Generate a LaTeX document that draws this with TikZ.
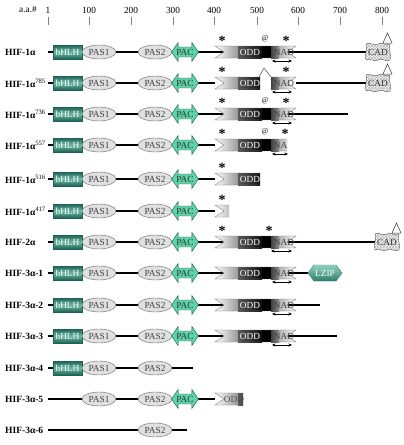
\documentclass[tikz,border=0pt]{standalone}
\usepackage{fontspec}
\setmainfont{Liberation Serif}
\usetikzlibrary{shapes.geometric,shapes.arrows,patterns,arrows.meta}

\definecolor{bhdark}{HTML}{1D6355}
\definecolor{bhlight}{HTML}{6DB8A5}
\definecolor{pacfill}{HTML}{5DD4A8}
\definecolor{pacline}{HTML}{1F5A4C}
\definecolor{lzlight}{HTML}{8FD3C0}
\definecolor{lzdark}{HTML}{2F7D6B}

\newcommand{\bbw}{2.2pt}

\newcommand{\oddbar}[6]{%
    \begin{scope}[shift={(0,#2)}]
        \clip (#3,-10) rectangle (#4,10);
        \shade[left color=white, right color=black!40] (215,-6) -- (238,-6) -- (238,6) -- (215,6) -- (224,0) -- cycle;
        \shade[left color=black!65, right color=black!95] (238,-6) rectangle (262,6);
        \fill[black] (262,-6) rectangle (271,6);
        \shade[left color=black!75, right color=black!45] (271,-6) rectangle (279,6);
        \shade[left color=black!30, right color=white] (279,-6) -- (296,-6) -- (287,0) -- (296,6) -- (279,6) -- cycle;
        \draw[black!55, line width=0.4pt] (215,-6) -- (296,-6) -- (287,0) -- (296,6) -- (215,6) -- (224,0) -- cycle;
        \node[inner sep=0.5pt, text=#6] (#1odd) at (#5,0) {ODD};
        \node[inner sep=0.5pt, text=black!75] (#1nad) at (284,0) {NAD};
    \end{scope}}

\newcommand{\caddom}[3]{%
    \begin{scope}[shift={(#2,#3)}]
        \draw[black!65, line width=0.4pt, preaction={fill=white}, pattern=crosshatch, pattern color=black!30]
            (-12,-8) .. controls (-8,-11) and (-4,-5) .. (0,-8)
            .. controls (4,-11) and (8,-5) .. (12,-8)
            .. controls (10,-3) and (14,3) .. (12,8)
            .. controls (8,11) and (4,5) .. (0,8)
            .. controls (-4,11) and (-8,5) .. (-12,8)
            .. controls (-14,3) and (-10,-3) .. (-12,-8) -- cycle;
        \draw[black!80, line width=0.5pt, fill=white] (5,-9) -- (9.5,-19) -- (14,-9) -- cycle;
        \node[inner sep=0.5pt, text=black!80] (#1) at (0,0) {CAD};
    \end{scope}}

\tikzset{
    backbone/.style={line width=\bbw},
    hiflab/.style={anchor=west, inner sep=0pt, font=\fontsize{9.5}{11}\selectfont\bfseries},
    bhlh/.style={rectangle, draw=bhdark, top color=bhdark, bottom color=bhdark, middle color=bhlight, minimum width=29pt, minimum height=14pt, inner sep=0pt, text=white},
    pasdom/.style={ellipse, draw=black!60, fill=black!12, minimum width=34pt, minimum height=14pt, inner sep=0pt, text=black!75},
    pacdom/.style={double arrow, draw=pacline, fill=pacfill, minimum height=27pt, minimum width=19pt, double arrow head extend=3pt, double arrow tip angle=110, inner sep=0pt, text=black!80},
    hifstar/.style={anchor=south, font=\fontsize{14}{14}\selectfont\bfseries, inner sep=0pt},
    sitemark/.style={font=\fontsize{7.5}{8}\selectfont, inner sep=0pt},
    nadspan/.style={{Stealth[length=3.5pt,width=3pt]}-{Stealth[length=3.5pt,width=3pt]}, line width=0.6pt},
    axtick/.style={draw=black!50, line width=0.5pt},
}

\begin{document}
\begin{tikzpicture}[x=1pt, y=-1pt, font=\fontsize{9.3}{11}\selectfont]

    \useasboundingbox (0,0) rectangle (404,445);

    \node (aa) at (28,10) {a.a.\#};
    \node (n1) at (48,10) {1};
    \node (n2) at (89,10) {100};
    \node (n3) at (131,10) {200};
    \node (n4) at (173,10) {300};
    \node (n5) at (214,10) {400};
    \node (n6) at (257,10) {500};
    \node (n7) at (298,10) {600};
    \node (n8) at (340,10) {700};
    \node (n9) at (382,10) {800};

    \draw[axtick] (48,17) -- (48,25);
    \draw[axtick] (89,17) -- (89,25);
    \draw[axtick] (131,17) -- (131,25);
    \draw[axtick] (173,17) -- (173,25);
    \draw[axtick] (214,17) -- (214,25);
    \draw[axtick] (257,17) -- (257,25);
    \draw[axtick] (298,17) -- (298,25);
    \draw[axtick] (340,17) -- (340,25);
    \draw[axtick] (382,17) -- (382,25);

    \node[hiflab] (h1) at (5,52) {HIF-1α};
    \coordinate (s1) at (48,52);
    \coordinate (e1) at (366,52);
    \draw[backbone] (s1) -- (e1);
    \node[bhlh] (b1) at (67.5,52) {bHLH};
    \node[pasdom] (pa1) at (99,52) {PAS1};
    \node[pasdom] (pb1) at (155,52) {PAS2};
    \node[pacdom] (c1) at (185,52) {PAC};
    \oddbar{o1}{52}{210}{300}{250}{white}
    \node[hifstar] (k1a) at (222,46) {*};
    \node[sitemark] (m1) at (265,39) {@};
    \node[hifstar] (k1b) at (286,46) {*};
    \coordinate (d1a) at (272,61);
    \coordinate (d1b) at (292,61);
    \draw[nadspan] (d1a) -- (d1b);
    \caddom{cad1}{378}{52}

    \node[hiflab] (h2) at (5,83) {HIF-1α{\mdseries\textsuperscript{785}}};
    \coordinate (s2) at (48,83);
    \coordinate (e2) at (215,83);
    \coordinate (s2b) at (296,83);
    \coordinate (e2b) at (366,83);
    \draw[backbone] (s2) -- (e2);
    \draw[backbone] (s2b) -- (e2b);
    \node[bhlh] (b2) at (67.5,83) {bHLH};
    \node[pasdom] (pa2) at (99,83) {PAS1};
    \node[pasdom] (pb2) at (155,83) {PAS2};
    \node[pacdom] (c2) at (185,83) {PAC};
    \oddbar{o2a}{83}{210}{260}{250}{white}
    \oddbar{o2b}{83}{271}{300}{250}{white}
    \draw[black!70, line width=0.5pt] (259,77) -- (264,68) -- (271,77);
    \node[hifstar] (k2a) at (222,77) {*};
    \node[hifstar] (k2b) at (286,77) {*};
    \coordinate (d2a) at (272,92);
    \coordinate (d2b) at (292,92);
    \draw[nadspan] (d2a) -- (d2b);
    \caddom{cad2}{378}{83}

    \node[hiflab] (h3) at (5,114) {HIF-1α{\mdseries\textsuperscript{736}}};
    \coordinate (s3) at (48,114);
    \coordinate (e3) at (348,114);
    \draw[backbone] (s3) -- (e3);
    \node[bhlh] (b3) at (67.5,114) {bHLH};
    \node[pasdom] (pa3) at (99,114) {PAS1};
    \node[pasdom] (pb3) at (155,114) {PAS2};
    \node[pacdom] (c3) at (185,114) {PAC};
    \oddbar{o3}{114}{210}{300}{250}{white}
    \node[hifstar] (k3a) at (222,108) {*};
    \node[sitemark] (m3) at (265,101) {@};
    \node[hifstar] (k3b) at (286,108) {*};
    \coordinate (d3a) at (272,123);
    \coordinate (d3b) at (292,123);
    \draw[nadspan] (d3a) -- (d3b);

    \node[hiflab] (h4) at (5,145) {HIF-1α{\mdseries\textsuperscript{557}}};
    \coordinate (s4) at (48,145);
    \coordinate (e4) at (215,145);
    \draw[backbone] (s4) -- (e4);
    \node[bhlh] (b4) at (67.5,145) {bHLH};
    \node[pasdom] (pa4) at (99,145) {PAS1};
    \node[pasdom] (pb4) at (155,145) {PAS2};
    \node[pacdom] (c4) at (185,145) {PAC};
    \oddbar{o4}{145}{210}{287}{250}{white}
    \node[hifstar] (k4a) at (222,139) {*};
    \node[sitemark] (m4) at (265,132) {@};
    \node[hifstar] (k4b) at (285,139) {*};
    \coordinate (d4a) at (272,154);
    \coordinate (d4b) at (288,154);
    \draw[nadspan] (d4a) -- (d4b);

    \node[hiflab] (h5) at (5,179) {HIF-1α{\mdseries\textsuperscript{516}}};
    \coordinate (s5) at (48,179);
    \coordinate (e5) at (215,179);
    \draw[backbone] (s5) -- (e5);
    \node[bhlh] (b5) at (67.5,179) {bHLH};
    \node[pasdom] (pa5) at (99,179) {PAS1};
    \node[pasdom] (pb5) at (155,179) {PAS2};
    \node[pacdom] (c5) at (185,179) {PAC};
    \oddbar{o5}{179}{210}{260}{250}{white}
    \node[hifstar] (k5a) at (222,173) {*};

    \node[hiflab] (h6) at (5,211) {HIF-1α{\mdseries\textsuperscript{417}}};
    \coordinate (s6) at (48,211);
    \coordinate (e6) at (215,211);
    \draw[backbone] (s6) -- (e6);
    \node[bhlh] (b6) at (67.5,211) {bHLH};
    \node[pasdom] (pa6) at (99,211) {PAS1};
    \node[pasdom] (pb6) at (155,211) {PAS2};
    \node[pacdom] (c6) at (185,211) {PAC};
    \oddbar{o6}{211}{210}{229}{250}{white}
    \node[hifstar] (k6a) at (222,205) {*};

    \node[hiflab] (h7) at (5,242) {HIF-2α};
    \coordinate (s7) at (48,242);
    \coordinate (e7) at (376,242);
    \draw[backbone] (s7) -- (e7);
    \node[bhlh] (b7) at (67.5,242) {bHLH};
    \node[pasdom] (pa7) at (99,242) {PAS1};
    \node[pasdom] (pb7) at (155,242) {PAS2};
    \node[pacdom] (c7) at (185,242) {PAC};
    \oddbar{o7}{242}{210}{300}{250}{white}
    \node[hifstar] (k7a) at (222,236) {*};
    \node[hifstar] (k7b) at (269,236) {*};
    \coordinate (d7a) at (271,251);
    \coordinate (d7b) at (292,251);
    \draw[nadspan] (d7a) -- (d7b);
    \caddom{cad7}{387}{242}

    \node[hiflab] (h8) at (5,273) {HIF-3α-1};
    \coordinate (s8) at (48,273);
    \coordinate (e8) at (308,273);
    \draw[backbone] (s8) -- (e8);
    \node[bhlh] (b8) at (67.5,273) {bHLH};
    \node[pasdom] (pa8) at (99,273) {PAS1};
    \node[pasdom] (pb8) at (155,273) {PAS2};
    \node[pacdom] (c8) at (185,273) {PAC};
    \oddbar{o8}{273}{210}{300}{250}{white}
    \coordinate (d8a) at (272,282);
    \coordinate (d8b) at (292,282);
    \draw[nadspan] (d8a) -- (d8b);
    \draw[draw=lzdark, top color=lzlight, bottom color=lzdark] (308,273) -- (314,265) -- (336,265) -- (342,273) -- (336,281) -- (314,281) -- cycle;
    \node[text=white] (lz8) at (325,273) {LZIP};

    \node[hiflab] (h9) at (5,305) {HIF-3α-2};
    \coordinate (s9) at (48,305);
    \coordinate (e9) at (320,305);
    \draw[backbone] (s9) -- (e9);
    \node[bhlh] (b9) at (67.5,305) {bHLH};
    \node[pasdom] (pa9) at (99,305) {PAS1};
    \node[pasdom] (pb9) at (155,305) {PAS2};
    \node[pacdom] (c9) at (185,305) {PAC};
    \oddbar{o9}{305}{210}{300}{250}{white}
    \coordinate (d9a) at (272,314);
    \coordinate (d9b) at (292,314);
    \draw[nadspan] (d9a) -- (d9b);

    \node[hiflab] (h10) at (5,336) {HIF-3α-3};
    \coordinate (s10) at (48,336);
    \coordinate (e10) at (337,336);
    \draw[backbone] (s10) -- (e10);
    \node[bhlh] (b10) at (67.5,336) {bHLH};
    \node[pasdom] (pa10) at (99,336) {PAS1};
    \node[pasdom] (pb10) at (155,336) {PAS2};
    \node[pacdom] (c10) at (185,336) {PAC};
    \oddbar{o10}{336}{210}{300}{250}{white}
    \coordinate (d10a) at (272,345);
    \coordinate (d10b) at (292,345);
    \draw[nadspan] (d10a) -- (d10b);

    \node[hiflab] (h11) at (5,368) {HIF-3α-4};
    \coordinate (s11) at (48,368);
    \coordinate (e11) at (193,368);
    \draw[backbone] (s11) -- (e11);
    \node[bhlh] (b11) at (67.5,368) {bHLH};
    \node[pasdom] (pa11) at (99,368) {PAS1};
    \node[pasdom] (pb11) at (155,368) {PAS2};

    \node[hiflab] (h12) at (5,399) {HIF-3α-5};
    \coordinate (s12) at (48,399);
    \coordinate (e12) at (215,399);
    \draw[backbone] (s12) -- (e12);
    \node[pasdom] (pa12) at (99,399) {PAS1};
    \node[pasdom] (pb12) at (155,399) {PAS2};
    \node[pacdom] (c12) at (185,399) {PAC};
    \oddbar{o12}{399}{210}{243}{234}{black!70}

    \node[hiflab] (h13) at (5,430) {HIF-3α-6};
    \coordinate (s13) at (48,430);
    \coordinate (e13) at (187,430);
    \draw[backbone] (s13) -- (e13);
    \node[pasdom] (pb13) at (155,430) {PAS2};

\end{tikzpicture}
\end{document}
